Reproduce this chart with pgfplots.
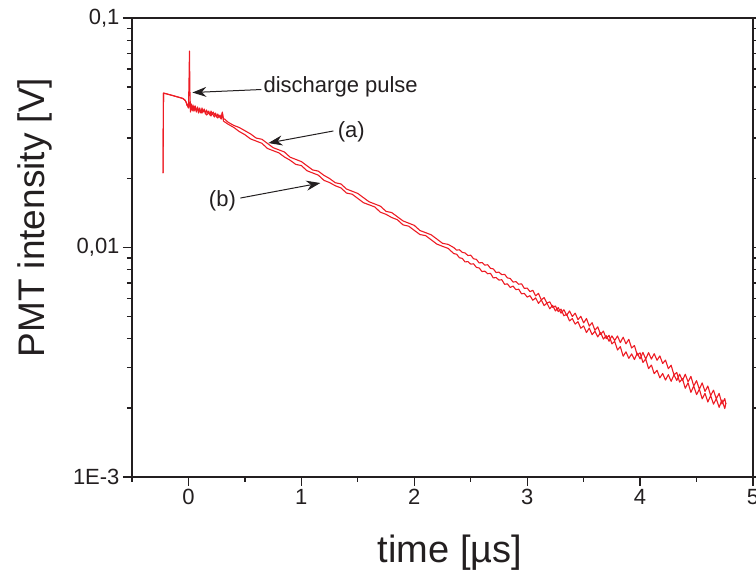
\documentclass[border=0pt]{standalone}
\usepackage{fontspec}
\setmainfont{Liberation Sans}
\usepackage{pgfplots}
\pgfplotsset{compat=1.18}
\usepackage{pgfplotstable}
\usetikzlibrary{arrows.meta}
\definecolor{curve}{RGB}{237,28,36}
\definecolor{ink}{RGB}{35,31,32}

\pgfplotstableread{
x y
-0.225 0.0211
-0.221 0.0471
-0.15 0.04609
-0.10 0.04535
-0.05 0.04463
-0.03 0.0438
-0.02 0.0430
-0.012 0.0415
-0.006 0.0420
0.000 0.0410
0.004 0.0500
0.009 0.0718
0.013 0.0480
0.018 0.03893
0.025 0.04219
0.03 0.03972
0.04 0.04177
0.05 0.03932
0.06 0.04135
0.07 0.03893
0.08 0.04094
0.09 0.03932
0.10 0.04053
0.11 0.03854
0.12 0.04053
0.13 0.03893
0.14 0.04012
0.15 0.03816
0.16 0.03972
0.17 0.03854
0.18 0.03932
0.19 0.03778
0.20 0.03932
0.21 0.03816
0.22 0.03893
0.23 0.03778
0.24 0.03854
0.25 0.03703
0.26 0.03816
0.27 0.03703
0.28 0.03778
0.29 0.03666
0.30 0.03893
0.31 0.03630
0.32 0.03630
0.35 0.03518
0.40 0.03407
0.45 0.03333
0.50 0.03228
0.55 0.03126
0.60 0.02998
0.65 0.02963
0.70 0.02841
0.75 0.02723
0.80 0.02665
0.85 0.02607
0.90 0.02475
0.95 0.02421
1.00 0.02368
1.05 0.02271
1.10 0.02178
1.15 0.02152
1.20 0.02063
1.25 0.01998
1.30 0.01916
1.35 0.01893
1.40 0.01798
1.45 0.01759
1.50 0.01720
1.55 0.01649
1.60 0.01582
1.65 0.01548
1.70 0.01514
1.75 0.01437
1.80 0.01420
1.85 0.01362
1.90 0.01306
1.95 0.01277
2.00 0.01249
2.05 0.01186
2.10 0.01161
2.15 0.01136
2.20 0.01089
2.25 0.01043
2.30 0.01032
2.35 0.009992
2.375 0.009735
2.40 0.009776
2.425 0.009525
2.45 0.009469
2.475 0.009226
2.50 0.009259
2.525 0.008931
2.55 0.008879
2.575 0.008564
2.60 0.008601
2.625 0.008380
2.65 0.008413
2.675 0.008116
2.70 0.008068
2.725 0.007782
2.75 0.007814
2.775 0.007613
2.80 0.007644
2.825 0.007374
2.85 0.007330
2.875 0.007070
2.90 0.007102
2.925 0.006919
2.95 0.006947
2.975 0.006634
3.00 0.006656
3.025 0.006421
3.05 0.006511
3.075 0.006157
3.10 0.006313
3.125 0.005909
3.15 0.006053
3.175 0.005723
3.20 0.005801
3.225 0.005484
3.25 0.005563
3.275 0.005259
3.30 0.005388
3.325 0.005043
3.35 0.005115
3.375 0.004788
3.40 0.004905
3.425 0.004638
3.45 0.004751
3.475 0.004447
3.50 0.004554
3.525 0.004262
3.55 0.004455
3.575 0.004170
3.60 0.004315
3.625 0.004080
3.65 0.004265
3.675 0.003992
3.70 0.004130
3.725 0.003905
3.75 0.004122
3.775 0.003936
3.80 0.004115
3.825 0.003852
3.85 0.004066
3.875 0.003806
3.90 0.003979
3.925 0.003650
3.95 0.003739
3.975 0.003397
4.00 0.003476
4.025 0.003157
4.05 0.003267
4.075 0.002967
4.10 0.003074
4.125 0.002820
4.15 0.002918
4.175 0.002704
4.20 0.002825
4.225 0.002644
4.25 0.002792
4.275 0.002613
4.30 0.002786
4.325 0.002634
4.35 0.002809
4.375 0.002629
4.40 0.002804
4.425 0.002599
4.45 0.002744
4.475 0.002492
4.50 0.002629
4.525 0.002412
4.55 0.002572
4.575 0.002360
4.60 0.002492
4.625 0.002264
4.65 0.002390
4.675 0.002193
4.70 0.002314
4.725 0.002081
4.75 0.002196
4.76 0.002080
}\seriesA

\pgfplotstableread{
x y
-0.225 0.0211
-0.221 0.0471
-0.15 0.04609
-0.10 0.04535
-0.05 0.04463
-0.03 0.0438
-0.02 0.0428
-0.012 0.0418
0.000 0.0405
0.009 0.0430
0.018 0.0400
0.03 0.04094
0.04 0.03932
0.05 0.04135
0.06 0.03972
0.08 0.04012
0.09 0.03854
0.10 0.03972
0.12 0.03854
0.13 0.03972
0.15 0.03893
0.16 0.03778
0.18 0.03854
0.20 0.03741
0.21 0.03854
0.23 0.03703
0.24 0.03778
0.26 0.03666
0.27 0.03741
0.29 0.03630
0.30 0.03854
0.31 0.03557
0.35 0.03448
0.40 0.03339
0.45 0.03202
0.50 0.03101
0.55 0.02973
0.60 0.02909
0.65 0.02846
0.70 0.02701
0.75 0.02642
0.80 0.02586
0.85 0.02480
0.90 0.02401
0.95 0.02303
1.00 0.02275
1.05 0.02160
1.10 0.02113
1.15 0.02067
1.20 0.01962
1.25 0.01919
1.30 0.01859
1.35 0.01819
1.40 0.01727
1.45 0.01707
1.50 0.01636
1.55 0.01568
1.60 0.01535
1.65 0.01502
1.70 0.01425
1.75 0.01395
1.80 0.01351
1.85 0.01322
1.90 0.01255
1.95 0.01239
2.00 0.01188
2.05 0.01139
2.10 0.01127
2.15 0.01080
2.20 0.01035
2.25 0.01012
2.30 0.00991
2.35 0.009407
2.375 0.009351
2.40 0.009022
2.425 0.008968
2.45 0.008651
2.475 0.008686
2.50 0.008460
2.525 0.008494
2.55 0.008194
2.575 0.008145
2.60 0.007858
2.625 0.007890
2.65 0.007688
2.675 0.007718
2.70 0.007371
2.725 0.007400
2.75 0.007211
2.775 0.007240
2.80 0.006914
2.825 0.006943
2.85 0.006697
2.875 0.006791
2.90 0.006554
2.925 0.006580
2.95 0.006284
2.975 0.006309
3.00 0.006081
3.025 0.006168
3.05 0.005890
3.075 0.006034
3.10 0.005710
3.125 0.005909
3.15 0.005586
3.175 0.005723
3.20 0.005408
3.225 0.005596
3.25 0.005290
3.275 0.005475
3.30 0.005176
3.325 0.005356
3.35 0.005064
3.375 0.005293
3.40 0.005005
3.425 0.005178
3.45 0.004847
3.475 0.005016
3.50 0.004693
3.525 0.004904
3.55 0.004545
3.575 0.004704
3.60 0.004359
3.625 0.004511
3.65 0.004180
3.675 0.004325
3.70 0.004008
3.725 0.004147
3.75 0.003804
3.775 0.003897
3.80 0.003576
3.825 0.003700
3.85 0.003360
3.875 0.003512
3.90 0.003288
3.925 0.003437
3.95 0.003250
3.975 0.003466
4.00 0.003273
4.025 0.003491
4.05 0.003267
4.075 0.003484
4.10 0.003265
4.125 0.003447
4.15 0.003226
4.175 0.003371
4.20 0.003123
4.225 0.003231
4.25 0.002965
4.275 0.003068
4.30 0.002786
4.325 0.002854
4.35 0.002592
4.375 0.002682
4.40 0.002437
4.425 0.002573
4.45 0.002337
4.475 0.002492
4.50 0.002285
4.525 0.002412
4.55 0.002191
4.575 0.002313
4.60 0.002122
4.625 0.002264
4.65 0.002077
4.675 0.002193
4.70 0.002011
4.725 0.002166
4.75 0.001987
4.76 0.002100
}\seriesB

\begin{document}
\begin{tikzpicture}
\begin{axis}[
  at={(0,0)}, anchor=south west,
  scale only axis, width=621bp, height=459bp,
  xmin=-0.5, xmax=5, ymin=0.001, ymax=0.1,
  ymode=log,
  xtick={0,1,2,3,4,5}, xticklabels={0,1,2,3,4,5},
  minor xtick={-0.5,0.5,1.5,2.5,3.5,4.5},
  ytick={0.001,0.01,0.1}, yticklabels={1E-3,{0,01},{0,1}},
  minor ytick={0.002,0.003,0.004,0.005,0.006,0.007,0.008,0.009,0.02,0.03,0.04,0.05,0.06,0.07,0.08,0.09},
  xtick pos=left, ytick pos=both,
  tick align=outside,
  major tick length=9bp, minor tick length=5bp,
  axis line style={line width=1.2bp, draw=ink},
  every tick/.style={line width=1.2bp, ink},
  /pgf/number format/assume math mode=true,
  tick label style={font=\fontsize{22bp}{26bp}\selectfont, text=ink},
  xlabel={time [µs]},
  ylabel={PMT intensity [V]},
  xlabel style={at={(axis description cs:0.512,-0.1656)}, anchor=center, font=\fontsize{38bp}{45bp}\selectfont, text=ink},
  ylabel style={at={(axis description cs:-0.156,0.565)}, anchor=center, font=\fontsize{37bp}{44bp}\selectfont, text=ink},
  clip=true,
]
\addplot[curve, line width=1.1bp, no marks, line join=round] table {\seriesA};
\addplot[curve, line width=1.1bp, no marks, line join=round] table {\seriesB};

\node[anchor=base west, font=\fontsize{22bp}{26bp}\selectfont, text=ink, inner sep=0pt] at (axis cs:0.664,0.04759) {discharge pulse};
\draw[-{Stealth[length=14bp,width=10bp]}, line width=1bp, ink] (axis cs:0.646,0.0488) -- (axis cs:0.035,0.04735);

\node[anchor=center, font=\fontsize{22bp}{26bp}\selectfont, text=ink, inner sep=0pt] at (axis cs:1.442,0.03187) {(a)};
\draw[-{Stealth[length=14bp,width=10bp]}, line width=1bp, ink] (axis cs:1.283,0.03219) -- (axis cs:0.708,0.02852);

\node[anchor=center, font=\fontsize{22bp}{26bp}\selectfont, text=ink, inner sep=0pt] at (axis cs:0.301,0.01595) {(b)};
\draw[-{Stealth[length=14bp,width=10bp]}, line width=1bp, ink] (axis cs:0.460,0.01643) -- (axis cs:1.168,0.0191);
\end{axis}
\pgfresetboundingbox
\useasboundingbox (-132bp,-99bp) rectangle (624bp,477bp);
\end{tikzpicture}
\end{document}
